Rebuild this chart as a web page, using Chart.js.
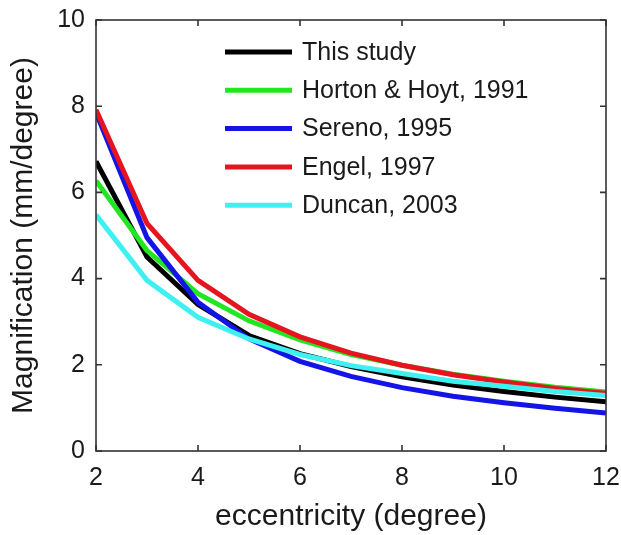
<!DOCTYPE html>
<html>
<head>
<meta charset="utf-8">
<title>Magnification vs eccentricity</title>
<script src="https://cdn.jsdelivr.net/npm/chart.js@4/dist/chart.umd.min.js"></script>
<style>
    html, body {
        margin: 0;
        padding: 0;
        background: #ffffff;
    }
    #wrap {
        width: 621px;
        height: 535px;
    }
</style>
</head>
<body>
<div id="wrap">
    <canvas id="magChart" width="621" height="535"></canvas>
</div>

<script>
// ==========================
// DATA
// ==========================

const eccentricity = [2, 3, 4, 5, 6, 7, 8, 9, 10, 11, 12];

const seriesLabels = [
    "This study",
    "Horton & Hoyt, 1991",
    "Sereno, 1995",
    "Engel, 1997",
    "Duncan, 2003"
];

const thisStudy = [6.72, 4.50, 3.40, 2.68, 2.26, 1.96, 1.72, 1.53, 1.38, 1.25, 1.14];
const hortonHoyt = [6.27, 4.65, 3.65, 3.02, 2.58, 2.24, 1.99, 1.78, 1.62, 1.48, 1.37];
const sereno = [7.85, 4.95, 3.45, 2.60, 2.08, 1.73, 1.47, 1.27, 1.12, 0.99, 0.88];
const engel = [7.92, 5.28, 3.96, 3.17, 2.65, 2.27, 1.99, 1.77, 1.60, 1.45, 1.34];
const duncan = [5.48, 3.96, 3.10, 2.60, 2.24, 1.98, 1.80, 1.62, 1.50, 1.38, 1.29];

const seriesValues = [thisStudy, hortonHoyt, sereno, engel, duncan];

const seriesColors = [
    "#000000",
    "#22e622",
    "#1414e6",
    "#e6141e",
    "#3ef0f0"
];

const xTicks = [2, 4, 6, 8, 10, 12];
const yTicks = [0, 2, 4, 6, 8, 10];

const FONT = "'Liberation Sans', Arial, Helvetica, sans-serif";
const TEXT = "#1a1a1a";


// ==========================
// DATASETS
// ==========================

const datasets = seriesLabels.map((label, i) => ({

    label: label,

    data: eccentricity.map((e, j) => ({ x: e, y: seriesValues[i][j] })),

    borderColor: seriesColors[i],
    backgroundColor: seriesColors[i],

    borderWidth: 5,
    pointRadius: 0,
    tension: 0,
    fill: false,

    // later series sit on top, like the original
    order: seriesLabels.length - i
}));


// ==========================
// BOX + INWARD TICKS + LEGEND
// ==========================

const frameAndLegend = {

    id: "frameAndLegend",

    afterDraw(chart) {

        const ctx = chart.ctx;
        const a = chart.chartArea;
        const xs = chart.scales.x;
        const ys = chart.scales.y;
        const tick = 6;

        ctx.save();

        ctx.strokeStyle = "#333333";
        ctx.lineWidth = 1.6;
        ctx.strokeRect(a.left, a.top, a.right - a.left, a.bottom - a.top);

        ctx.beginPath();

        xTicks.forEach(v => {
            const px = xs.getPixelForValue(v);
            ctx.moveTo(px, a.bottom);
            ctx.lineTo(px, a.bottom - tick);
            ctx.moveTo(px, a.top);
            ctx.lineTo(px, a.top + tick);
        });

        yTicks.forEach(v => {
            const py = ys.getPixelForValue(v);
            ctx.moveTo(a.left, py);
            ctx.lineTo(a.left + tick, py);
            ctx.moveTo(a.right, py);
            ctx.lineTo(a.right - tick, py);
        });

        ctx.stroke();

        // legend inside the plot, no frame
        const lx = 225;
        const ly = 52;
        const rowGap = 38.3;

        ctx.font = "25px " + FONT;
        ctx.textBaseline = "middle";
        ctx.textAlign = "left";

        chart.data.datasets.forEach((ds, i) => {

            const y = ly + i * rowGap;

            ctx.strokeStyle = ds.borderColor;
            ctx.lineWidth = 5;
            ctx.beginPath();
            ctx.moveTo(lx, y);
            ctx.lineTo(lx + 67, y);
            ctx.stroke();

            ctx.fillStyle = TEXT;
            ctx.fillText(ds.label, lx + 77, y + 1);
        });

        ctx.restore();
    }
};


// ==========================
// CHART
// ==========================

const magCtx =
document.getElementById(
    "magChart");

new Chart(magCtx, {

    type: "line",

    data: {
        datasets: datasets
    },

    options: {

        responsive: false,
        animation: false,

        layout: {
            padding: {
                top: 20,
                right: 15,
                left: 0,
                bottom: 0
            }
        },

        plugins: {
            legend: { display: false },
            tooltip: { enabled: false }
        },

        scales: {

            x: {
                type: "linear",
                min: 2,
                max: 12,
                afterBuildTicks: scale => {
                    scale.ticks = xTicks.map(v => ({ value: v }));
                },
                afterFit: scale => {
                    scale.height = 84;
                    scale.paddingLeft = 0;
                    scale.paddingRight = 0;
                },
                grid: {
                    display: false,
                    drawTicks: false
                },
                border: { display: false },
                ticks: {
                    padding: 12,
                    color: TEXT,
                    font: { family: FONT, size: 25 }
                },
                title: {
                    display: true,
                    text: "eccentricity (degree)",
                    color: TEXT,
                    font: { family: FONT, size: 30 },
                    padding: { top: 0, bottom: 0 }
                }
            },

            y: {
                type: "linear",
                min: 0,
                max: 10,
                afterBuildTicks: scale => {
                    scale.ticks = yTicks.map(v => ({ value: v }));
                },
                afterFit: scale => {
                    scale.width = 96;
                    scale.paddingTop = 0;
                    scale.paddingBottom = 0;
                },
                grid: {
                    display: false,
                    drawTicks: false
                },
                border: { display: false },
                ticks: {
                    padding: 11,
                    color: TEXT,
                    font: { family: FONT, size: 25 }
                },
                title: {
                    display: true,
                    text: "Magnification (mm/degree)",
                    color: TEXT,
                    font: { family: FONT, size: 30 },
                    padding: { top: 6, bottom: 0 }
                }
            }
        }
    },

    plugins: [frameAndLegend]
});
</script>
</body>
</html>
